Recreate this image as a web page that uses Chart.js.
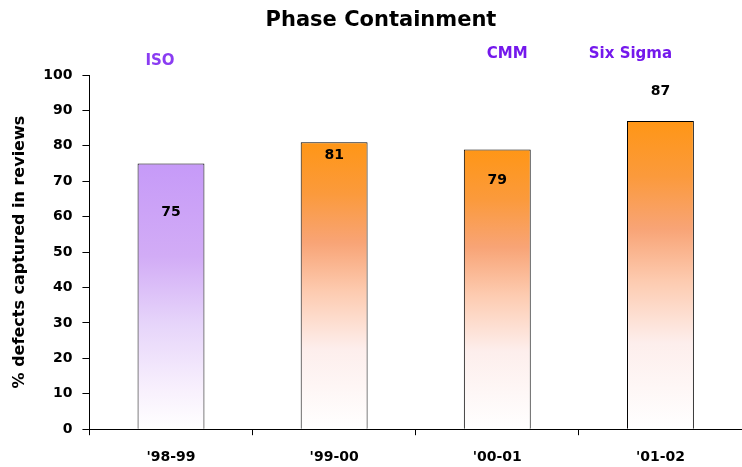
<!DOCTYPE html>
<html><head><meta charset="utf-8">
<script src="https://cdn.jsdelivr.net/npm/chart.js@4/dist/chart.umd.min.js"></script>
<style>html,body{margin:0;padding:0;background:#fff}#wrap{width:742px;height:467px}</style>
</head><body><div id="wrap"><canvas id="c" width="742" height="467"></canvas></div>
<script>
const categories = ["'98-99", "'99-00", "'00-01", "'01-02"];
const values = [75, 81, 79, 87];
const phaseLabels = ["ISO", "", "CMM", "Six Sigma"];
const yTicks = [0, 10, 20, 30, 40, 50, 60, 70, 80, 90, 100];
const chartTitle = 'Phase Containment';

const FONT = "'DejaVu Sans', 'Liberation Sans', Arial, sans-serif";

const purpleStops = [[0, '#c69af8'], [0.35, '#d2acf6'], [0.6, '#e6d4fa'], [0.85, '#f8f0fd'], [1, '#ffffff']];
const orangeStops = [[0, '#ff9616'], [0.18, '#fb9a3c'], [0.35, '#f8a476'], [0.52, '#fdcbb0'], [0.72, '#fdeeec'], [1, '#ffffff']];

function grad(ctx) {
  const chart = ctx.chart;
  const a = chart.chartArea;
  const i = ctx.dataIndex;
  const stops = i === 0 ? purpleStops : orangeStops;
  if (!a) return stops[0][1];
  const yTop = chart.scales.y.getPixelForValue(values[i]);
  const g = chart.ctx.createLinearGradient(0, yTop, 0, a.bottom);
  stops.forEach(s => g.addColorStop(s[0], s[1]));
  return g;
}

// where each value label sits relative to its bar top (px, + = down)
const labelShift = [49, 13, 31, -30];
const phaseShift = [[-11, 61], [0, 0], [10, 54], [-30, 54]];

const overlay = {
  id: 'overlay',
  afterDatasetsDraw(chart) {
    const ctx = chart.ctx;
    const y = chart.scales.y;
    const meta = chart.getDatasetMeta(0);
    ctx.save();
    ctx.textAlign = 'center';
    ctx.textBaseline = 'middle';
    ctx.fillStyle = '#000';
    ctx.font = 'bold 21px ' + FONT;
    ctx.fillText(chartTitle, 381, 21);
    ctx.font = 'bold 14px ' + FONT;
    meta.data.forEach((bar, i) => {
      const top = y.getPixelForValue(values[i]);
      ctx.fillText(String(values[i]), bar.x, top + labelShift[i]);
    });
    ctx.font = 'bold 15px ' + FONT;
    meta.data.forEach((bar, i) => {
      if (!phaseLabels[i]) return;
      ctx.fillStyle = i === 0 ? '#8a3cf2' : '#7418ec';
      ctx.fillText(phaseLabels[i], bar.x + phaseShift[i][0], phaseShift[i][1]);
    });
    ctx.restore();
  }
};

new Chart(document.getElementById('c'), {
  type: 'bar',
  data: {
    labels: categories,
    datasets: [{
      data: values,
      backgroundColor: grad,
      borderColor: '#000',
      borderWidth: 1,
      borderSkipped: 'bottom',
      barPercentage: 0.82,
      categoryPercentage: 0.5
    }]
  },
  options: {
    responsive: false,
    animation: false,
    layout: { padding: { top: 75, right: 0, left: 10, bottom: -13 } },
    plugins: {
      legend: { display: false },
      tooltip: { enabled: false },
      title: { display: false }
    },
    scales: {
      x: {
        grid: { display: true, drawOnChartArea: false, color: '#000', tickLength: 6, offset: true },
        border: { display: true, color: '#000', width: 1 },
        ticks: { color: '#000', font: { family: FONT, size: 14, weight: 'bold' }, padding: 14 }
      },
      y: {
        min: 0, max: 100,
        afterBuildTicks(s) { s.ticks = yTicks.map(v => ({ value: v })); },
        grid: { display: true, drawOnChartArea: false, color: '#000', tickLength: 7 },
        border: { display: true, color: '#000', width: 1 },
        ticks: { color: '#000', font: { family: FONT, size: 14, weight: 'bold' }, padding: 10 },
        title: {
          display: true,
          text: '% defects captured in reviews',
          color: '#000',
          font: { family: FONT, size: 16, weight: 'bold' },
          padding: { top: 0, bottom: 4 }
        }
      }
    }
  },
  plugins: [overlay]
});
</script>
</body></html>
